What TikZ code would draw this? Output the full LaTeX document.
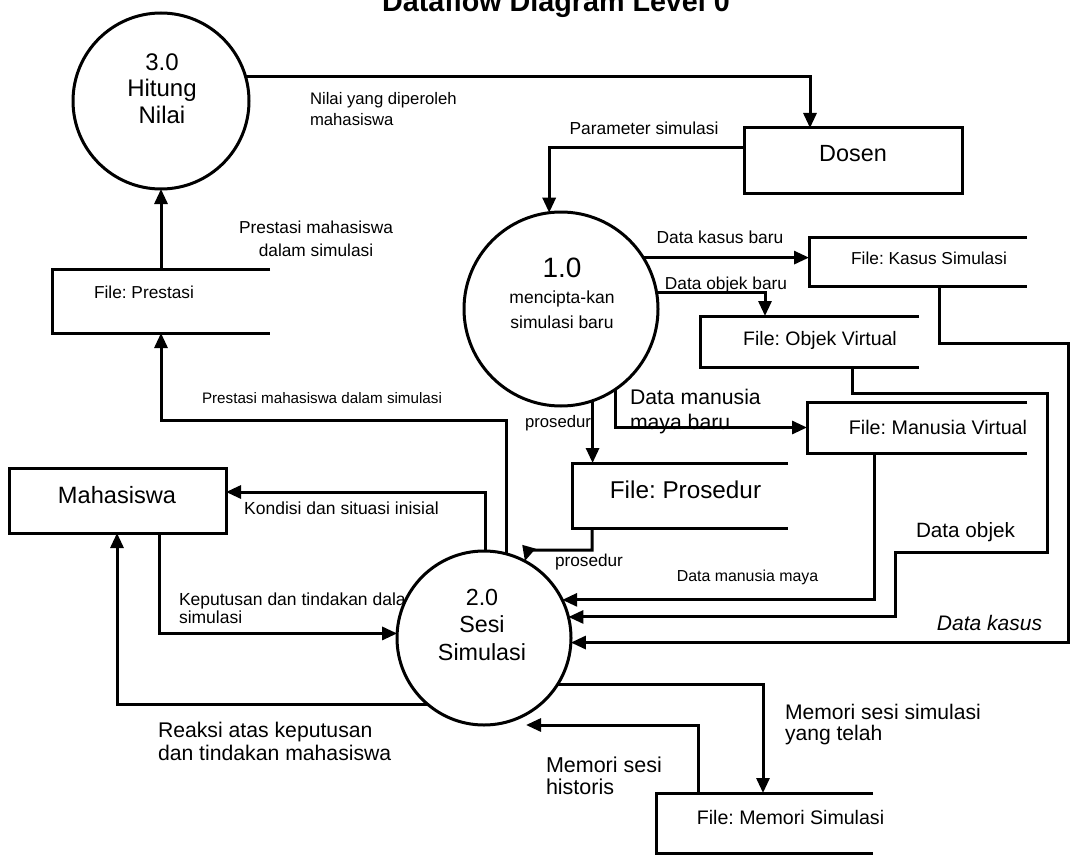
\documentclass[tikz,border=0pt]{standalone}
\usepackage{fontspec}
\setmainfont{Liberation Sans}
\usetikzlibrary{arrows.meta}
\frenchspacing
\newcommand\fsz[2]{\fontsize{#1}{#2}\selectfont}
\newcommand\storeframe[1]{\draw[wire] (#1.north east) -- (#1.north west) -- (#1.south west) -- (#1.south east);}
\begin{document}
\begin{tikzpicture}[x=1pt,y=-1pt,
  wire/.style={line width=3pt},
  flow/.style={wire,-{Triangle[length=15pt,width=13pt]}},
  proc/.style={circle,draw,line width=3pt,fill=white,inner sep=0pt,outer sep=0pt},
  ent/.style={rectangle,draw,line width=3pt,inner sep=0pt,outer sep=0pt},
  store/.style={rectangle,inner sep=0pt,outer sep=0pt},
  lbl/.style={inner sep=0pt,outer sep=0pt}]
\fill[white] (0,0) rectangle (1076,856);
\clip (0,0) rectangle (1076,856);
\useasboundingbox (0,0) rectangle (1076,856);

% title
\node[lbl,anchor=base,font=\bfseries\fsz{28.7}{30}] (title) at (556,12) {Dataflow Diagram Level 0};

% labels drawn before shapes
\node[lbl,anchor=west,align=left,font=\fsz{17.5}{18}] (lkep) at (179,608.5) {Keputusan dan tindakan dalam\\simulasi};

% processes
\node[proc,minimum size=176pt] (p3) at (161,101) {};
\node[proc,minimum size=194pt] (p1) at (561,309) {};
\node[proc,minimum size=174pt] (p2) at (484,638) {};
\node[lbl,align=center,font=\fsz{24}{26.5}] (t3) at (162,88.5) {3.0\\Hitung\\Nilai};
\node[lbl,font=\fsz{28}{30}] (t1a) at (562,268) {1.0};
\node[lbl,align=center,font=\fsz{17.5}{25}] (t1b) at (562,309.5) {mencipta-kan\\simulasi baru};
\node[lbl,align=center,font=\fsz{23.3}{27.5}] (t2) at (482,624.5) {2.0\\Sesi\\Simulasi};

% external entities
\node[ent,minimum width=218pt,minimum height=65pt] (dosen) at (853,160.5) {};
\node[lbl,font=\fsz{23.4}{26}] (tdosen) at (853,153.7) {Dosen};
\node[ent,minimum width=217pt,minimum height=65pt] (mh) at (117.5,500.5) {};
\node[lbl,font=\fsz{23.6}{26}] (tmh) at (117,495) {Mahasiswa};

% data stores
\node[store,minimum width=218pt,minimum height=64pt] (fp) at (161,301) {};
\node[store,minimum width=218pt,minimum height=49pt] (ks) at (918,261.5) {};
\node[store,minimum width=219pt,minimum height=51pt] (fo) at (809.5,341.5) {};
\node[store,minimum width=220pt,minimum height=51pt] (fmv) at (917,427.5) {};
\node[store,minimum width=216pt,minimum height=65pt] (fpr) at (680,495.5) {};
\node[store,minimum width=217pt,minimum height=60pt] (fms) at (764.5,823) {};
\storeframe{fp}
\storeframe{ks}
\storeframe{fo}
\storeframe{fmv}
\storeframe{fpr}
\storeframe{fms}
\node[lbl,font=\fsz{17.3}{20}] (tfp) at (144,292) {File: Prestasi};
\node[lbl,font=\fsz{17.3}{20}] (tks) at (929,258) {File: Kasus Simulasi};
\node[lbl,font=\fsz{19.5}{22}] (tfo) at (820,340) {File: Objek Virtual};
\node[lbl,font=\fsz{19.7}{22}] (tfmv) at (938,427) {File: Manusia Virtual};
\node[lbl,font=\fsz{24.3}{27}] (tfpr) at (685.5,490) {File: Prosedur};
\node[lbl,font=\fsz{19.6}{22}] (tfms) at (790.5,817) {File: Memori Simulasi};

% flow labels
\node[lbl,anchor=west,align=left,font=\fsz{16.7}{21}] (lnilai) at (310,109.5) {Nilai yang diperoleh\\mahasiswa};
\node[lbl,font=\fsz{17.4}{20}] (lparam) at (644,128) {Parameter simulasi};
\node[lbl,font=\fsz{17.4}{20}] (lkb) at (720,237) {Data kasus baru};
\node[lbl,font=\fsz{17.3}{20}] (lob) at (726,285) {Data objek baru};
\node[lbl,anchor=west,align=left,font=\fsz{21.2}{25}] (lmb) at (630,411.7) {Data manusia\\maya baru};
\node[lbl,font=\fsz{16.7}{20}] (lpr1) at (558,423) {prosedur};
\node[lbl,font=\fsz{17.2}{20}] (lpr2) at (589,562) {prosedur};
\node[lbl,align=center,font=\fsz{17.3}{23}] (lpm) at (316,238.5) {Prestasi mahasiswa\\dalam simulasi};
\node[lbl,font=\fsz{15.2}{18}] (lpms) at (322,398) {Prestasi mahasiswa dalam simulasi};
\node[lbl,font=\fsz{17.5}{20}] (lkond) at (341.5,508) {Kondisi dan situasi inisial};
\node[lbl,anchor=west,align=left,font=\fsz{21.2}{23}] (lreak) at (158,741.5) {Reaksi atas keputusan\\dan tindakan mahasiswa};
\node[lbl,font=\fsz{15.9}{18}] (ldmm) at (747.5,577) {Data manusia maya};
\node[lbl,font=\fsz{20.7}{23}] (ldo) at (965.5,532) {Data objek};
\node[lbl,font=\itshape\fsz{21}{23}] (ldk) at (989.5,623) {Data kasus};
\node[lbl,anchor=west,align=left,font=\fsz{21.1}{21.5}] (lmss) at (785,724.7) {Memori sesi simulasi\\yang telah};
\node[lbl,anchor=west,align=left,font=\fsz{21.5}{22}] (lmsh) at (546,776) {Memori sesi\\historis};

% connectors
\draw[flow] (p3.16) -| (dosen.north -| 810,0);
\draw[flow] ([yshift=12.5pt]dosen.west) -| (p1.97);
\draw[flow] (p1.32) -- (p1.32 -| ks.west);
\draw[flow] (p1.10) -| (fo.north -| 765,0);
\draw[flow] (p1.-56) |- (fmv.west);
\draw[flow] (p1.-71) -- (p1.-71 |- fpr.north);
\draw[flow] (fpr.south -| 592,0) -- (592,550) -- (528,550) -- (p2.62);
\draw[flow] (fp.north) -- (p3.south);
\draw[flow] (p2.75) -- (p2.75 |- 0,420) -| (fp.south);
\draw[flow] (p2.89) |- ([yshift=8.5pt]mh.east);
\draw[flow] (mh.south -| 159,0) |- (p2.177);
\draw[flow] (p2.-130) -| (mh.south -| 117,0);
\draw[flow] (fmv.south -| 874,0) |- (p2.26);
\draw[flow] (fo.south -| 852,0) |- (1047,393) |- (895,552) |- (p2.14);
\draw[flow] (ks.south -| 939,0) |- (1068,343) |- (p2.-3);
\draw[flow] (p2.-32) -| (fms.north -| 763,0);
\draw[flow] (fms.north -| 698,0) |- ([xshift=42pt]p2.south);
\end{tikzpicture}
\end{document}
